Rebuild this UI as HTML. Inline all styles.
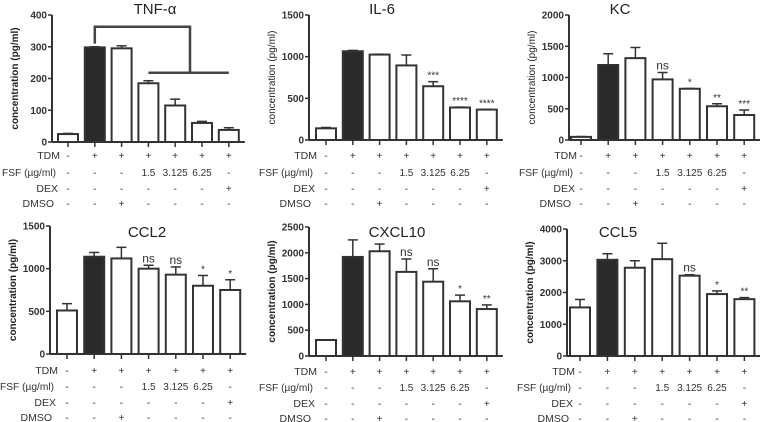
<!DOCTYPE html>
<html><head><meta charset="utf-8"><style>
body{margin:0;background:#fff}
svg{display:block;font-family:"Liberation Sans",sans-serif}
</style></head><body>
<svg id="fig" width="760" height="422" viewBox="0 0 760 422" xmlns="http://www.w3.org/2000/svg"></svg>
<script>
const categories=["ctrl","TDM","TDM+DMSO","FSF1.5","FSF3.125","FSF6.25","DEX"];
const tnfValues=[25,298,295,185,115,60,38];
const tnfErrors=[27,300,303,193,135,65,45];
const il6Values=[140,1065,1025,895,645,390,365];
const il6Errors=[150,1075,1030,1020,700,395,368];
const kcValues=[50,1200,1310,970,820,540,400];
const kcErrors=[55,1380,1480,1080,825,580,480];
const ccl2Values=[510,1140,1120,1000,930,800,750];
const ccl2Errors=[590,1190,1250,1040,1020,920,870];
const cxcl10Values=[310,1920,2030,1630,1440,1060,910];
const cxcl10Errors=[315,2250,2170,1880,1690,1180,990];
const ccl5Values=[1530,3030,2780,3050,2530,1950,1790];
const ccl5Errors=[1780,3220,3000,3550,2560,2050,1840];
const tnfTicks=[0,100,200,300,400];
const il6Ticks=[0,500,1000,1500];
const kcTicks=[0,500,1000,1500,2000];
const ccl2Ticks=[0,500,1000,1500];
const cxcl10Ticks=[0,500,1000,1500,2000,2500];
const ccl5Ticks=[0,1000,2000,3000,4000];
const il6Sig=["","","","","***","****","****"];
const kcSig=["","","","ns","*","**","***"];
const ccl2Sig=["","","","ns","ns","*","*"];
const cxcl10Sig=["","","","ns","ns","*","**"];
const ccl5Sig=["","","","","ns","*","**"];
const rowTDM=["-","+","+","+","+","+","+"];
const rowFSF=["-","-","-","1.5","3.125","6.25","-"];
const rowDEX=["-","-","-","-","-","-","+"];
const rowDMSO=["-","-","+","-","-","-","-"];

const NS="http://www.w3.org/2000/svg";
const svg=document.getElementById('fig');
function mk(tag,attrs,parent){const e=document.createElementNS(NS,tag);for(const k in attrs)e.setAttribute(k,attrs[k]);(parent||svg).appendChild(e);return e;}

const panels=[
 {id:'tnf',title:'TNF-α',vals:tnfValues,errs:tnfErrors,ticks:tnfTicks,sig:null,ax:52,y0:142,yTop:15,x0:68,step:26.8,tx:155,ty:14,bold:true,rows:[155,172,188,203]},
 {id:'il6',title:'IL-6',vals:il6Values,errs:il6Errors,ticks:il6Ticks,sig:il6Sig,ax:309,y0:140,yTop:15,x0:326,step:26.8,tx:382,ty:14,bold:false,rows:[155,172,188,203]},
 {id:'kc',title:'KC',vals:kcValues,errs:kcErrors,ticks:kcTicks,sig:kcSig,ax:569,y0:140,yTop:15,x0:581,step:27.2,tx:620,ty:14,bold:false,rows:[155,172,188,203]},
 {id:'ccl2',title:'CCL2',vals:ccl2Values,errs:ccl2Errors,ticks:ccl2Ticks,sig:ccl2Sig,ax:50,y0:354,yTop:226,x0:67,step:27.2,tx:147,ty:237,bold:true,rows:[370,386,402,417]},
 {id:'cxcl10',title:'CXCL10',vals:cxcl10Values,errs:cxcl10Errors,ticks:cxcl10Ticks,sig:cxcl10Sig,ax:309,y0:356,yTop:227,x0:326,step:26.8,tx:397,ty:237,bold:true,rows:[371,387,403,418]},
 {id:'ccl5',title:'CCL5',vals:ccl5Values,errs:ccl5Errors,ticks:ccl5Ticks,sig:ccl5Sig,ax:567,y0:356,yTop:229,x0:580,step:27.4,tx:618,ty:237,bold:true,rows:[371,387,403,418]}
];
const rowNames=["TDM","FSF (µg/ml)","DEX","DMSO"];
const rowData=[rowTDM,rowFSF,rowDEX,rowDMSO];
const rowOff=[8,4,6,2];

panels.forEach(p=>{
 const g=mk('g',{});
 
 
 const max=p.ticks[p.ticks.length-1];
 const y=v=>p.y0-(v/max)*(p.y0-p.yTop);
 const x=i=>p.x0+i*p.step;
 const bw=20;
 const t=mk('text',{x:p.tx,y:p.ty,'font-size':15,'text-anchor':'middle',fill:'#222'},g);t.textContent=p.title;
 
 
 const yl=mk('text',{transform:`translate(${p.ax-34},${(p.y0+p.yTop)/2}) rotate(-90)`,'font-size':10,'font-weight':p.bold?'bold':'normal','text-anchor':'middle',fill:'#222'},g);yl.textContent='concentration (pg/ml)';
 
 
 p.vals.forEach((v,i)=>{
  const cx=x(i);
  const e=p.errs[i];
  const el=mk('line',{x1:cx,x2:cx,y1:y(v),y2:y(e),stroke:'#333','stroke-width':1.5},g);
  
  
  const ec=mk('line',{x1:cx-5,x2:cx+5,y1:y(e),y2:y(e),stroke:'#333','stroke-width':1.5},g);
  
  
  const r=mk('rect',{x:cx-bw/2,y:y(v),width:bw,height:p.y0-y(v),fill:i===1?'#2a2a2a':'#fff',stroke:'#333','stroke-width':2},g);
  
  
  if(p.sig&&p.sig[i]){
   const s=mk('text',{x:cx,y:y(e)-3,'font-size':p.sig[i]==='ns'?12:10,'text-anchor':'middle',fill:'#333'},g);s.textContent=p.sig[i];
   
   
  }
  mk('line',{x1:cx,x2:cx,y1:p.y0,y2:p.y0+5,stroke:'#333','stroke-width':1.5},g);
  rowData.forEach((row,ri)=>{
   const tt=mk('text',{x:cx,y:p.rows[ri]+4,'font-size':10,'text-anchor':'middle',fill:'#333'},g);tt.textContent=row[i];
  });
 });
 const ya=mk('line',{x1:p.ax,x2:p.ax,y1:p.yTop,y2:p.y0,stroke:'#333','stroke-width':2},g);
 
 
 const xa=mk('line',{x1:p.ax,x2:x(6)+16,y1:p.y0,y2:p.y0,stroke:'#333','stroke-width':2},g);
 
 
 p.ticks.forEach(tv=>{
  mk('line',{x1:p.ax-4,x2:p.ax,y1:y(tv),y2:y(tv),stroke:'#333','stroke-width':1.5},g);
  const tl=mk('text',{x:p.ax-5,y:y(tv)+3.5,'font-size':10,'font-weight':'bold','text-anchor':'end',fill:'#333'},g);tl.textContent=tv;
  
  
 });
 rowNames.forEach((n,ri)=>{
  const attrs={x:p.ax+rowOff[ri],y:p.rows[ri]+4,'font-size':10.5,'text-anchor':'end',fill:'#333'};
  if(ri===1){attrs.textLength=54;attrs.lengthAdjust='spacingAndGlyphs';}
  const rl=mk('text',attrs,g);rl.textContent=n;
  
  
 });
 if(p.id==='tnf'){
  const bTop=363,bLow=218;
  const br=mk('polyline',{points:`${x(1)},${y(310)} ${x(1)},${y(bTop)} 190,${y(bTop)} 190,${y(bLow)}`,fill:'none',stroke:'#444','stroke-width':2.5},g);
  
  
  const bl=mk('line',{x1:x(3),x2:x(6),y1:y(bLow),y2:y(bLow),stroke:'#444','stroke-width':2.5},g);
  
  
 }
});
</script>
</body></html>
